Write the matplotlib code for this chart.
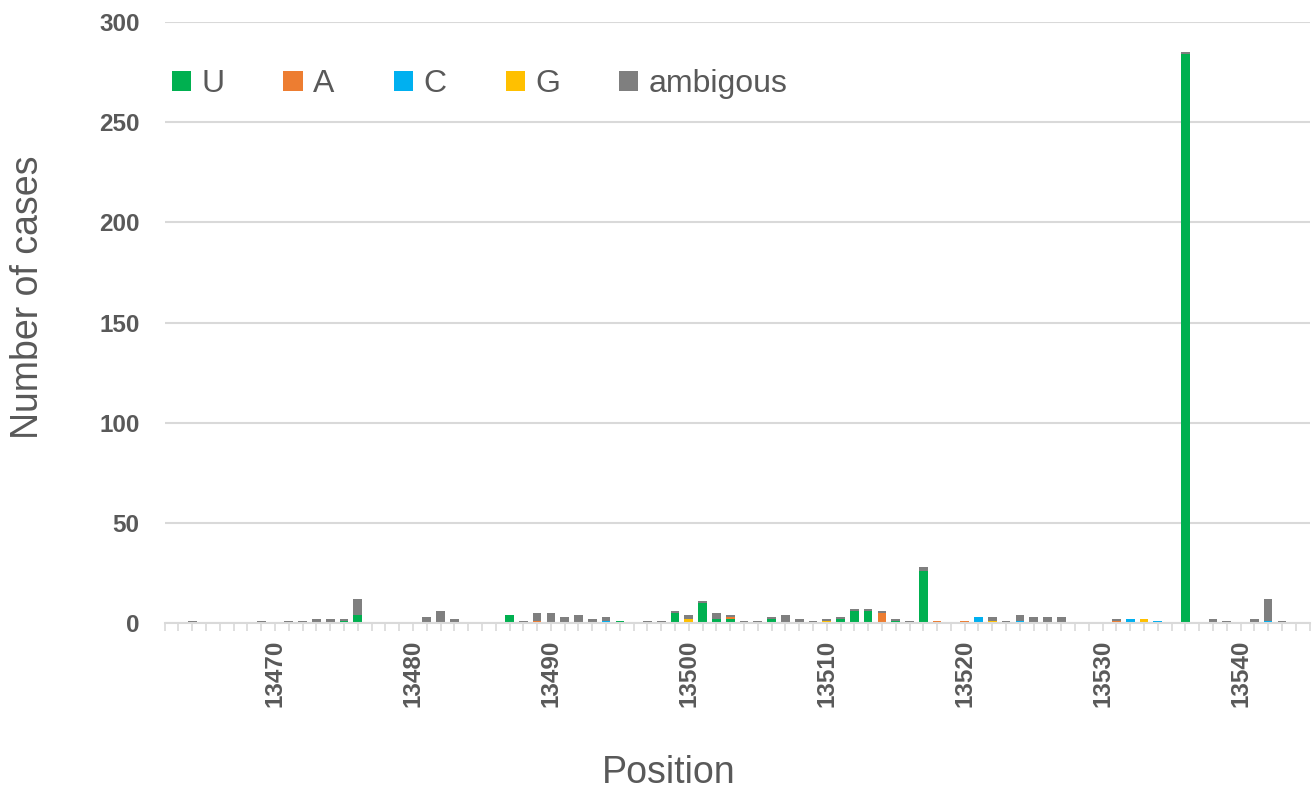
import numpy as np
import matplotlib
matplotlib.use('Agg')
import matplotlib.pyplot as plt
from matplotlib.ticker import MultipleLocator

plt.rcParams['font.family'] = ['Liberation Sans', 'DejaVu Sans']

# positions with at least one case (all others are zero)
positions = [13464, 13469, 13471, 13472, 13473, 13474, 13475, 13476,
             13481, 13482, 13483, 13487, 13488, 13489, 13490, 13491,
             13492, 13493, 13494, 13495, 13497, 13498, 13499, 13500,
             13501, 13502, 13503, 13504, 13505, 13506, 13507, 13508,
             13509, 13510, 13511, 13512, 13513, 13514, 13515, 13516,
             13517, 13518, 13520, 13521, 13522, 13523, 13524, 13525,
             13526, 13527, 13531, 13532, 13533, 13534, 13536, 13538,
             13539, 13541, 13542, 13543]

u_vals = [0, 0, 0, 0, 0, 0, 1, 4,
          0, 0, 0, 4, 0, 0, 0, 0,
          0, 0, 0, 1, 0, 0, 5, 0,
          10, 2, 2, 0, 0, 2, 0, 0,
          0, 0, 2, 6, 6, 0, 1, 0,
          26, 0, 0, 0, 0, 0, 0, 0,
          0, 0, 0, 0, 0, 0, 284, 0,
          0, 0, 0, 0]
a_vals = [0, 0, 0, 0, 0, 0, 0, 0,
          0, 0, 0, 0, 0, 1, 0, 0,
          0, 0, 0, 0, 0, 0, 0, 0,
          0, 0, 1, 0, 0, 0, 0, 0,
          0, 0, 0, 0, 0, 5, 0, 0,
          0, 1, 1, 0, 0, 0, 0, 0,
          0, 0, 1, 0, 0, 0, 0, 0,
          0, 0, 0, 0]
c_vals = [0, 0, 0, 0, 0, 0, 0, 0,
          0, 0, 0, 0, 0, 0, 0, 0,
          0, 0, 1, 0, 0, 0, 0, 0,
          0, 0, 0, 0, 0, 0, 0, 0,
          0, 0, 0, 0, 0, 0, 0, 0,
          0, 0, 0, 3, 0, 0, 1, 0,
          0, 0, 0, 2, 0, 1, 0, 0,
          0, 0, 1, 0]
g_vals = [0, 0, 0, 0, 0, 0, 0, 0,
          0, 0, 0, 0, 0, 0, 0, 0,
          0, 0, 0, 0, 0, 0, 0, 2,
          0, 0, 0, 0, 0, 0, 0, 0,
          0, 1, 0, 0, 0, 0, 0, 0,
          0, 0, 0, 0, 1, 0, 0, 0,
          0, 0, 0, 0, 2, 0, 0, 0,
          0, 0, 0, 0]
amb_vals = [1, 1, 1, 1, 2, 2, 1, 8,
            3, 6, 2, 0, 1, 4, 5, 3,
            4, 2, 2, 0, 1, 1, 1, 2,
            1, 3, 1, 1, 1, 1, 4, 2,
            1, 1, 1, 1, 1, 1, 1, 1,
            2, 0, 0, 0, 2, 1, 3, 3,
            3, 3, 1, 0, 0, 0, 1, 2,
            1, 2, 11, 1]

series = [('U', u_vals, '#00B050'),
          ('A', a_vals, '#ED7D31'),
          ('C', c_vals, '#00B0F0'),
          ('G', g_vals, '#FFC000'),
          ('ambigous', amb_vals, '#7F7F7F')]

text_col = '#595959'
grid_col = '#D9D9D9'

fig = plt.figure(figsize=(13.14, 7.92), dpi=100)
ax = fig.add_axes([164.7 / 1314, 1 - 623 / 792, (1309.5 - 164.7) / 1314, 601 / 792])

x = np.array(positions)
bottom = np.zeros(len(positions))
for name, vals, col in series:
    vals = np.array(vals, dtype=float)
    ax.bar(x, vals, width=0.63, bottom=bottom, color=col, label=name, zorder=2)
    bottom += vals

ax.set_xlim(13462, 13545)
ax.set_ylim(0, 300)
ax.yaxis.set_major_locator(MultipleLocator(50))
ax.xaxis.set_major_locator(MultipleLocator(10))
ax.xaxis.set_minor_locator(MultipleLocator(1))
ax.grid(axis='y', color=grid_col, linewidth=1.5, zorder=0)
ax.set_axisbelow(True)

for s in ['top', 'right', 'left']:
    ax.spines[s].set_visible(False)
ax.spines['bottom'].set_color(grid_col)
ax.spines['bottom'].set_linewidth(1.5)
ax.spines['bottom'].set_zorder(3)

ax.tick_params(axis='y', length=0, pad=18, labelsize=17.5, labelcolor=text_col)
ax.tick_params(axis='x', which='both', length=6, width=1.2, color=grid_col,
               pad=6, labelsize=17.5, labelcolor=text_col, labelrotation=90)
for lab in ax.get_xticklabels() + ax.get_yticklabels():
    lab.set_fontweight('bold')

ax.set_xlabel('Position', fontsize=27, color=text_col, va='center')
ax.xaxis.set_label_coords(0.44, -0.25)
ax.set_ylabel('Number of cases', fontsize=27, color=text_col, va='center')
ax.yaxis.set_label_coords(-0.1194, 0.542)

ax.legend(loc='center left', bbox_to_anchor=(0.006, 0.897), ncol=5, frameon=False,
          fontsize=23, handlelength=0.6, handleheight=0.6, handletextpad=0.33,
          columnspacing=1.85, borderpad=0, borderaxespad=0, labelcolor=text_col)

fig.savefig('out.png', dpi=100)
